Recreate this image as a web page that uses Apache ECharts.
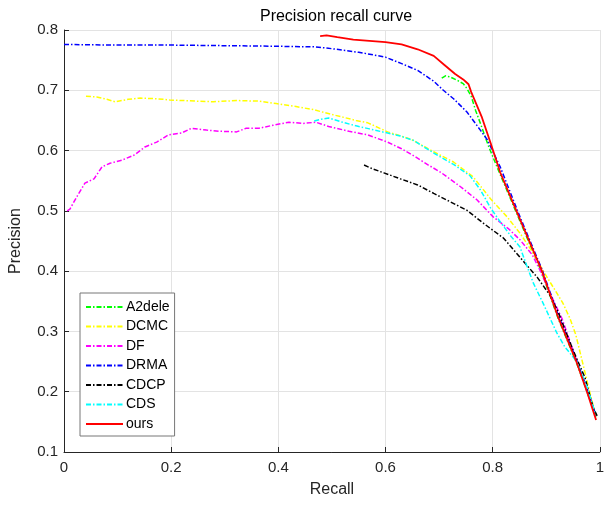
<!DOCTYPE html>
<html>
<head>
<meta charset="utf-8">
<script src="https://cdn.jsdelivr.net/npm/echarts@6/dist/echarts.min.js"></script>
<style>html,body{margin:0;padding:0;background:#fff;}#c{width:607px;height:505px;}</style>
</head>
<body>
<div id="c"></div>
<script>
var xTicks = [0, 0.2, 0.4, 0.6, 0.8, 1];
var yTicks = [0.1, 0.2, 0.3, 0.4, 0.5, 0.6, 0.7, 0.8];

var a2deleX = [0.705, 0.712, 0.721, 0.735, 0.745, 0.752, 0.76, 0.768, 0.78, 0.792, 0.808, 0.85, 0.892, 0.922, 0.957, 0.976, 0.993];
var a2deleY = [0.72, 0.724, 0.722, 0.716, 0.711, 0.703, 0.69, 0.667, 0.638, 0.608, 0.573, 0.485, 0.397, 0.322, 0.247, 0.2, 0.158];

var dcmcX = [0.041, 0.061, 0.08, 0.095, 0.12, 0.141, 0.173, 0.197, 0.247, 0.279, 0.322, 0.364, 0.396, 0.433, 0.465, 0.504, 0.545, 0.567, 0.604, 0.647, 0.69, 0.727, 0.764, 0.796, 0.827, 0.851, 0.874, 0.898, 0.916, 0.931, 0.944, 0.955, 0.966, 0.981, 0.991];
var dcmcY = [0.69, 0.689, 0.685, 0.681, 0.685, 0.687, 0.686, 0.684, 0.682, 0.681, 0.683, 0.682, 0.678, 0.673, 0.668, 0.659, 0.65, 0.646, 0.631, 0.619, 0.598, 0.581, 0.556, 0.52, 0.49, 0.463, 0.432, 0.395, 0.369, 0.347, 0.322, 0.295, 0.255, 0.2, 0.165];

var dfX = [0.006, 0.011, 0.025, 0.039, 0.056, 0.071, 0.086, 0.108, 0.132, 0.151, 0.173, 0.195, 0.219, 0.238, 0.266, 0.29, 0.322, 0.34, 0.364, 0.39, 0.42, 0.446, 0.47, 0.494, 0.532, 0.567, 0.604, 0.63, 0.655, 0.68, 0.703, 0.74, 0.771, 0.801, 0.83, 0.851, 0.874, 0.888, 0.907, 0.93, 0.963, 0.992];
var dfY = [0.5, 0.503, 0.525, 0.546, 0.553, 0.573, 0.579, 0.584, 0.593, 0.606, 0.614, 0.626, 0.629, 0.637, 0.634, 0.632, 0.631, 0.637, 0.637, 0.642, 0.647, 0.645, 0.647, 0.64, 0.632, 0.626, 0.614, 0.603, 0.59, 0.576, 0.564, 0.54, 0.518, 0.49, 0.47, 0.452, 0.427, 0.402, 0.364, 0.32, 0.235, 0.16];

var drmaX = [0.0, 0.1, 0.2, 0.3, 0.4, 0.47, 0.5, 0.55, 0.6, 0.628, 0.66, 0.69, 0.708, 0.727, 0.752, 0.777, 0.79, 0.814, 0.851, 0.892, 0.922, 0.957, 0.976, 0.993];
var drmaY = [0.776, 0.775, 0.775, 0.774, 0.773, 0.772, 0.769, 0.763, 0.755, 0.745, 0.733, 0.715, 0.7, 0.686, 0.664, 0.634, 0.618, 0.573, 0.49, 0.403, 0.328, 0.252, 0.205, 0.16];

var cdcpX = [0.56, 0.575, 0.597, 0.628, 0.66, 0.69, 0.721, 0.752, 0.782, 0.8, 0.82, 0.851, 0.883, 0.907, 0.922, 0.95, 0.972, 0.987, 0.995];
var cdcpY = [0.576, 0.57, 0.563, 0.553, 0.543, 0.529, 0.515, 0.501, 0.48, 0.468, 0.455, 0.423, 0.39, 0.36, 0.333, 0.269, 0.224, 0.175, 0.16];

var cdsX = [0.467, 0.48, 0.494, 0.52, 0.545, 0.57, 0.604, 0.628, 0.652, 0.69, 0.727, 0.758, 0.777, 0.796, 0.814, 0.834, 0.851, 0.862, 0.876, 0.894, 0.907, 0.92, 0.935, 0.957, 0.976, 0.991];
var cdsY = [0.649, 0.652, 0.654, 0.647, 0.641, 0.636, 0.629, 0.624, 0.617, 0.596, 0.577, 0.558, 0.535, 0.505, 0.482, 0.458, 0.44, 0.413, 0.38, 0.347, 0.322, 0.297, 0.274, 0.25, 0.208, 0.165];

var oursX = [0.478, 0.49, 0.51, 0.54, 0.57, 0.6, 0.63, 0.66, 0.69, 0.71, 0.73, 0.745, 0.755, 0.76, 0.78, 0.796, 0.814, 0.85, 0.892, 0.922, 0.957, 0.976, 0.993];
var oursY = [0.79, 0.791, 0.788, 0.784, 0.782, 0.78, 0.776, 0.768, 0.757, 0.742, 0.727, 0.718, 0.71, 0.697, 0.655, 0.613, 0.564, 0.488, 0.40, 0.324, 0.248, 0.2, 0.153];

function zip(xs, ys) { return xs.map(function (x, i) { return [x, ys[i]]; }); }

var dashDot = [5, 2, 1.5, 2];
function mk(name, xs, ys, color, type, width) {
  return {
    name: name, type: 'line', data: zip(xs, ys), symbol: 'none', showSymbol: false,
    lineStyle: { color: color, width: width, type: type }, itemStyle: { color: color },
    animation: false
  };
}

var chart = echarts.init(document.getElementById('c'), null, { renderer: 'canvas' });
var font = 'Liberation Sans, Arial, Helvetica, sans-serif';
chart.setOption({
  backgroundColor: '#fff',
  title: {
    text: 'Precision recall curve', left: 331, top: 4, textAlign: 'center',
    textStyle: { fontFamily: font, fontSize: 16, fontWeight: 'normal', color: '#000' }
  },
  grid: { left: 62, right: 7, top: 30, bottom: 53 },
  legend: {
    orient: 'vertical', left: 80, top: 293,
    backgroundColor: '#fff', borderColor: '#777', borderWidth: 1, borderRadius: 0,
    padding: [7, 5, 5, 5], itemWidth: 37, itemHeight: 12, itemGap: 5.5,
    itemStyle: { color: 'rgba(0,0,0,0)', borderWidth: 0, opacity: 0 },
    textStyle: { fontFamily: font, fontSize: 14, color: '#000', padding: [0, 0, 0, -2] },
    data: ['A2dele', 'DCMC', 'DF', 'DRMA', 'CDCP', 'CDS', 'ours']
  },
  xAxis: {
    type: 'value', min: 0, max: 1, interval: 0.2,
    name: 'Recall', nameLocation: 'middle', nameGap: 30,
    nameTextStyle: { fontFamily: font, fontSize: 16, color: '#262626' },
    axisLine: { show: true, lineStyle: { color: '#262626', width: 1 } },
    axisTick: { show: true, inside: true, length: 5, lineStyle: { color: '#262626' } },
    axisLabel: { fontFamily: font, fontSize: 15, color: '#262626', margin: 8,
      formatter: function (v) { return String(+v.toFixed(1)); } },
    splitLine: { show: true, lineStyle: { color: '#e3e3e3', width: 1 } }
  },
  yAxis: {
    type: 'value', min: 0.1, max: 0.8, interval: 0.1,
    name: 'Precision', nameLocation: 'middle', nameGap: 40, nameRotate: 90,
    nameTextStyle: { fontFamily: font, fontSize: 16, color: '#262626' },
    axisLine: { show: true, lineStyle: { color: '#262626', width: 1 } },
    axisTick: { show: true, inside: true, length: 5, lineStyle: { color: '#262626' } },
    axisLabel: { fontFamily: font, fontSize: 15, color: '#262626', margin: 6,
      formatter: function (v) { return (+v).toFixed(1); } },
    splitLine: { show: true, lineStyle: { color: '#e3e3e3', width: 1 } }
  },
  series: [
    mk('A2dele', a2deleX, a2deleY, '#00ff00', dashDot, 1.5),
    mk('DCMC', dcmcX, dcmcY, '#ffff00', dashDot, 1.5),
    mk('DF', dfX, dfY, '#ff00ff', dashDot, 1.5),
    mk('DRMA', drmaX, drmaY, '#0000ff', dashDot, 1.5),
    mk('CDCP', cdcpX, cdcpY, '#000000', dashDot, 1.5),
    mk('CDS', cdsX, cdsY, '#00ffff', dashDot, 1.5),
    mk('ours', oursX, oursY, '#ff0000', 'solid', 1.8)
  ]
});
</script>
</body>
</html>
